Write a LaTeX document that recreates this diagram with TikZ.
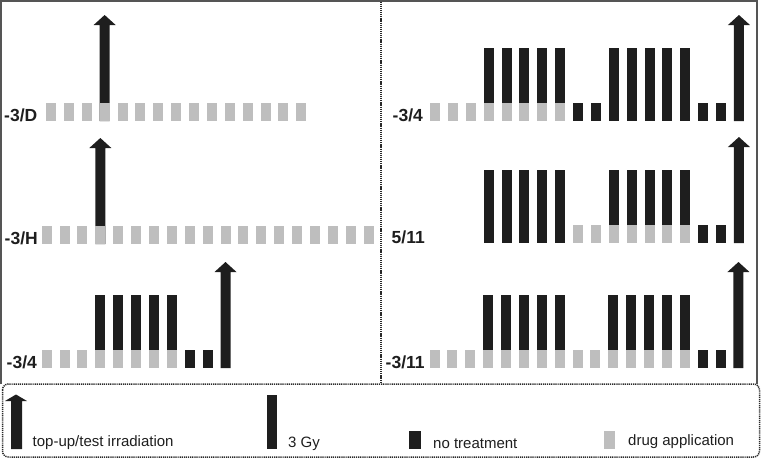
\documentclass[tikz,border=0pt]{standalone}
\usepackage{fontspec}
\setmainfont{Liberation Sans}
\definecolor{drugc}{HTML}{BEBEBE}
\definecolor{barc}{HTML}{1E1E1E}
\definecolor{framec}{HTML}{555555}
\definecolor{dotc}{HTML}{2A2A2A}
\newcommand{\drugcell}[3]{\fill[drugc] ({#1+#3*17.88},{#2-18}) rectangle ++(10,18);}
\newcommand{\blackcell}[3]{\fill[barc] ({#1+#3*17.88},{#2-18}) rectangle ++(10,18);}
\newcommand{\gycell}[3]{\fill[barc] ({#1+#3*17.88},{#2-73}) rectangle ++(10,55);}
\newcommand{\irrarrow}[3]{\fill[barc] ({#1+#3*17.88},#2) -- ++(0,-96) -- ++(-6,0) -- ++(11,-10) -- ++(11,10) -- ++(-6,0) -- ++(0,96) -- cycle;}
\begin{document}
\begin{tikzpicture}[x=1pt,y=-1pt,
  rowlabel/.style={anchor=base west,inner sep=0pt,font=\fontsize{17.5}{20}\selectfont\bfseries,text=barc},
  legtext/.style={anchor=base west,inner sep=0pt,font=\fontsize{15}{18}\selectfont,text=barc},
  dotline/.style={draw=dotc,line width=1.5pt,dash pattern=on 1.2pt off 0.9pt},
  frameline/.style={draw=framec,line width=1.4pt}]
\useasboundingbox (0,0) rectangle (761,459);
% frame
\draw[frameline] (1,384) -- (1,1) -- (757,1) -- (757,384);
\draw[dotline] (381,1.5) -- (381,383);
\draw[dotline,rounded corners=6pt] (2.5,384) rectangle (759.5,457);

% ---- left row 1: -3/D
\irrarrow{46}{121}{3}
\foreach \i in {0,...,14} {\drugcell{46}{121}{\i}}
\node[rowlabel] (lD) at (4,121) {-3/D};

% ---- left row 2: -3/H
\irrarrow{41.7}{244}{3}
\foreach \i in {0,...,18} {\drugcell{41.7}{244}{\i}}
\node[rowlabel] (lH) at (4.5,244) {-3/H};

% ---- left row 3: -3/4
\foreach \i in {0,...,7} {\drugcell{41.7}{368}{\i}}
\foreach \i in {3,...,7} {\gycell{41.7}{368}{\i}}
\foreach \i in {8,9} {\blackcell{41.7}{368}{\i}}
\irrarrow{41.7}{368}{10}
\node[rowlabel] (l34) at (6.5,368) {-3/4};

% ---- right row 1: -3/4
\foreach \i in {0,...,7} {\drugcell{430}{121}{\i}}
\foreach \i in {3,...,7} {\gycell{430}{121}{\i}}
\foreach \i in {8,...,16} {\blackcell{430}{121}{\i}}
\foreach \i in {10,...,14} {\gycell{430}{121}{\i}}
\irrarrow{430}{121}{17}
\node[rowlabel] (r34) at (392.5,121) {-3/4};

% ---- right row 2: 5/11
\foreach \i in {3,...,7} {\gycell{430}{243}{\i}\blackcell{430}{243}{\i}}
\foreach \i in {8,...,14} {\drugcell{430}{243}{\i}}
\foreach \i in {10,...,14} {\gycell{430}{243}{\i}}
\foreach \i in {15,16} {\blackcell{430}{243}{\i}}
\irrarrow{430}{243}{17}
\node[rowlabel] (r511) at (391.5,243.5) {5/11};

% ---- right row 3: -3/11
\foreach \i in {0,...,14} {\drugcell{429.5}{368}{\i}}
\foreach \i in {3,...,7} {\gycell{429.5}{368}{\i}}
\foreach \i in {10,...,14} {\gycell{429.5}{368}{\i}}
\foreach \i in {15,16} {\blackcell{429.5}{368}{\i}}
\irrarrow{429.5}{368}{17}
\node[rowlabel] (r311) at (385.5,368) {-3/11};

% ---- legend
\fill[barc] (11,449) -- (11,401) -- (5,401) -- (16,394.5) -- (27,401) -- (22,401) -- (22,449) -- cycle;
\node[legtext] (tleg) at (32.5,446.5) {top-up/test irradiation};
\fill[barc] (267,395) rectangle (277,449);
\node[legtext] (gleg) at (288,447) {3 Gy};
\fill[barc] (409,431) rectangle (421,449);
\node[legtext] (nleg) at (433,448) {no treatment};
\fill[drugc] (604,431) rectangle (615,449);
\node[legtext] (dleg) at (628,445) {drug application};
\end{tikzpicture}
\end{document}
